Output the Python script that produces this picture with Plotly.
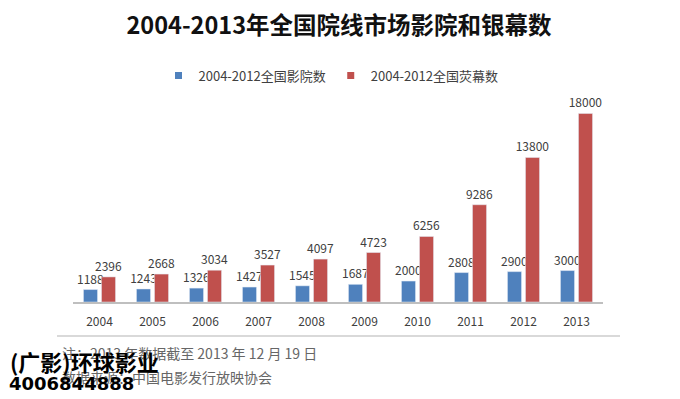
import plotly.graph_objects as go

years = ["2004", "2005", "2006", "2007", "2008", "2009", "2010", "2011", "2012", "2013"]
cinemas = [1188, 1243, 1326, 1427, 1545, 1687, 2000, 2808, 2900, 3000]
screens = [2396, 2668, 3034, 3527, 4097, 4723, 6256, 9286, 13800, 18000]

name_cinemas = "2004-2012全国影院数"
name_screens = "2004-2012全国荧幕数"
title_text = "2004-2013年全国院线市场影院和银幕数"
note_lines = ["注：2013 年数据截至 2013 年 12 月 19 日", "数据来源：中国电影发行放映协会"]
watermark_lines = ["(广影)环球影业", "4006844888"]

BLUE = "#4F81BD"
RED = "#C0504D"
TXT = "#404040"
CJK = "Noto Sans CJK SC"

W, H = 680, 399
L, R, T, B = 73, 77, 103, 97
pw, ph = W - L - R, H - T - B

def px_x(x):
    return (x - L) / pw

def px_y(y):
    return (H - B - y) / ph

fig = go.Figure()
fig.add_trace(go.Bar(x=years, y=cinemas, marker_color=BLUE, showlegend=False,
                     texttemplate="%{y:d}", textposition="outside", constraintext="none",
                     textfont=dict(size=12, color=TXT, family=CJK), cliponaxis=False))
fig.add_trace(go.Bar(x=years, y=screens, marker_color=RED, showlegend=False,
                     texttemplate="%{y:d}", textposition="outside", constraintext="none",
                     textfont=dict(size=12, color=TXT, family=CJK), cliponaxis=False))
# legend entries
fig.add_trace(go.Scatter(x=[None], y=[None], mode="markers", name=name_cinemas,
                         marker=dict(symbol="square", size=7, color=BLUE)))
fig.add_trace(go.Scatter(x=[None], y=[None], mode="markers", name=name_screens,
                         marker=dict(symbol="square", size=7, color=RED)))

annotations = []
for i, (txt, ypx) in enumerate(zip(note_lines, [353, 377])):
    annotations.append(dict(text=txt, xref="paper", yref="paper", x=px_x(60), y=px_y(ypx),
                            xanchor="left", yanchor="middle", showarrow=False,
                            font=dict(family=CJK, size=14, color="#666666")))
annotations.append(dict(text="<b>" + watermark_lines[0] + "</b>", xref="paper", yref="paper",
                        x=px_x(8), y=px_y(361), xanchor="left", yanchor="middle", showarrow=False,
                        font=dict(family=CJK, size=22, color="#000000")))
annotations.append(dict(text="<b>" + watermark_lines[1] + "</b>", xref="paper", yref="paper",
                        x=px_x(7), y=px_y(383), xanchor="left", yanchor="middle", showarrow=False,
                        font=dict(family="DejaVu Sans", size=18, color="#000000")))

fig.update_layout(
    width=W, height=H,
    margin=dict(l=L, r=R, t=T, b=B, autoexpand=False),
    paper_bgcolor="white", plot_bgcolor="white",
    barmode="group", bargap=0.32, bargroupgap=0.22,
    title=dict(text="<b>" + title_text + "</b>", x=339 / W, xref="container", xanchor="center",
               y=1 - 26 / H, yref="container", yanchor="middle",
               font=dict(family=CJK, size=23.5, color="#111111")),
    legend=dict(orientation="h", x=331 / W, xref="container", xanchor="center",
                y=1 - 75.5 / H, yref="container", yanchor="middle",
                font=dict(family=CJK, size=13, color=TXT), itemwidth=30,
                bgcolor="rgba(0,0,0,0)"),
    xaxis=dict(showgrid=False, showline=True, linecolor="#BFBFBF", linewidth=1.5,
               ticks="", ticklabelstandoff=8,
               tickfont=dict(family=CJK, size=12, color=TXT)),
    yaxis=dict(range=[0, 19000], visible=False, showgrid=False),
    annotations=annotations,
    shapes=[dict(type="line", xref="paper", yref="paper", x0=px_x(57), x1=px_x(620),
                 y0=px_y(336), y1=px_y(336), line=dict(color="#D9D9D9", width=2))],
)

fig.write_html("out.html", config={"displayModeBar": False},
               post_script="document.body.style.margin='0';")
